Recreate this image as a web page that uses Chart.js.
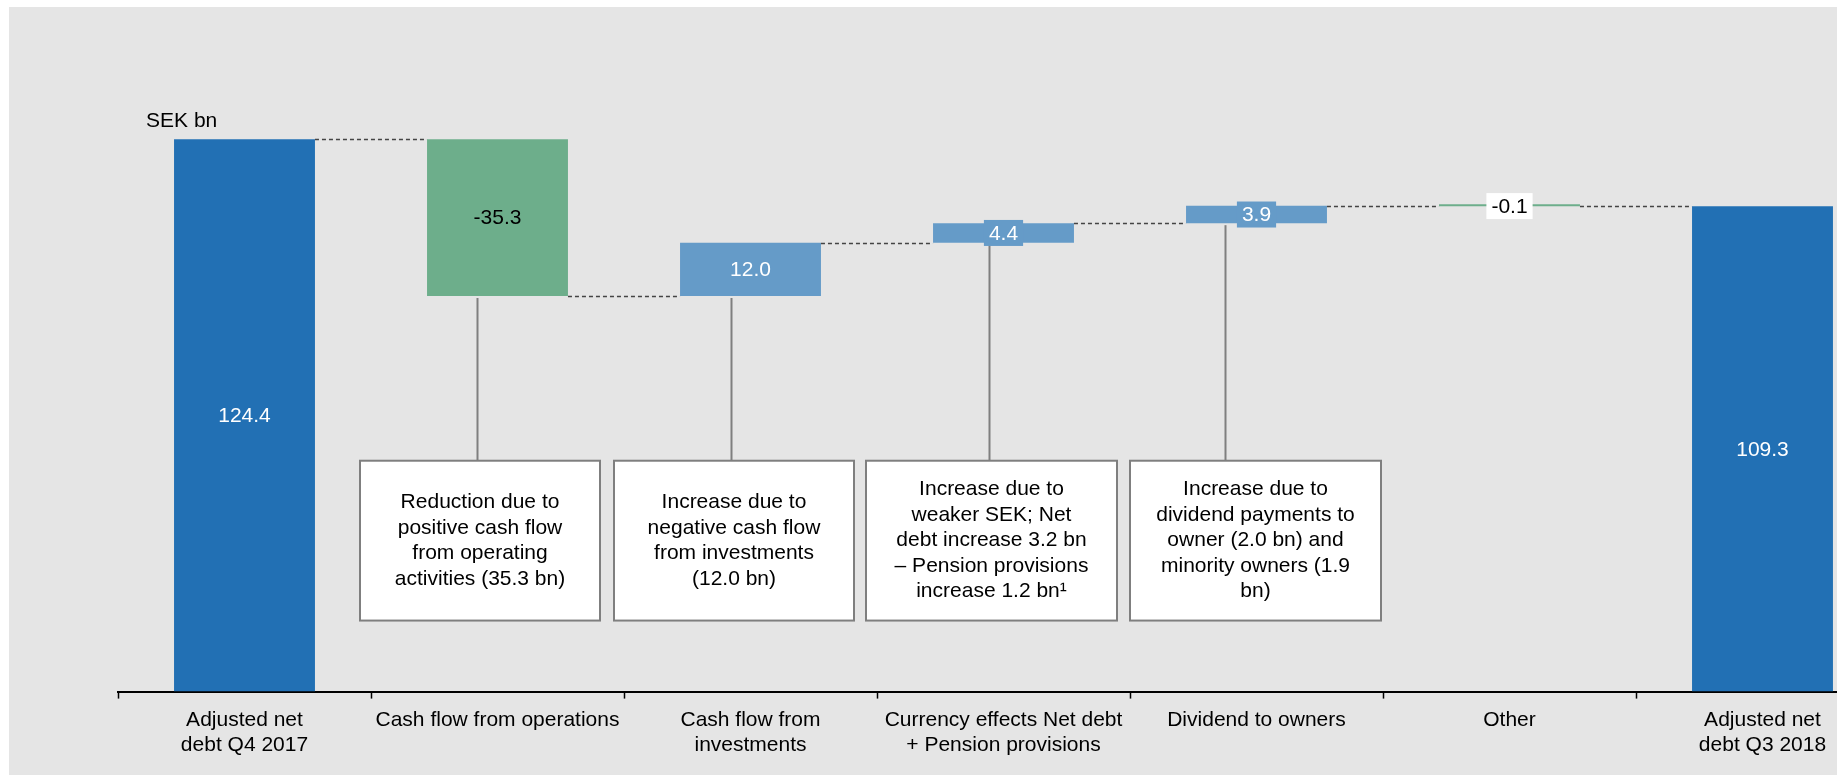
<!DOCTYPE html>
<html>
<head>
<meta charset="utf-8">
<script src="https://cdn.jsdelivr.net/npm/chart.js@4.4.0/dist/chart.umd.min.js"></script>
<style>
  html, body { margin: 0; padding: 0; background: #fff; overflow: hidden; }
  #wrap { position: absolute; left: 0; top: 0; width: 1900px; height: 775px; }
</style>
</head>
<body>
<div id="wrap"><canvas id="chart" width="1900" height="775"></canvas></div>
<script>
// categories on the x axis
const categories = [
  ['Adjusted net', 'debt Q4 2017'],
  'Cash flow from operations',
  ['Cash flow from', 'investments'],
  ['Currency effects Net debt', '+ Pension provisions'],
  'Dividend to owners',
  'Other',
  ['Adjusted net', 'debt Q3 2018'],
]
// SEK bn, totals at both ends, changes in between
const changes = [124.4, -35.3, 12.0, 4.4, 3.9, -0.1, 109.3]
const isTotal = [true, false, false, false, false, false, true]
const valueLabels = ['124.4', '-35.3', '12.0', '4.4', '3.9', '-0.1', '109.3']

const notes = [
  null,
  ['Reduction due to', 'positive cash flow', 'from operating', 'activities (35.3 bn)'],
  ['Increase due to', 'negative cash flow', 'from investments', '(12.0 bn)'],
  ['Increase due to', 'weaker SEK; Net', 'debt increase 3.2 bn', '\u2013 Pension provisions', 'increase 1.2 bn\u00b9'],
  ['Increase due to', 'dividend payments to', 'owner (2.0 bn) and', 'minority owners (1.9', 'bn)'],
  null,
  null,
]

const DARK = '#2270b4'
const GREEN = '#6dae8b'
const LIGHT = '#659bc8'
const barColors = [DARK, GREEN, LIGHT, LIGHT, LIGHT, GREEN, DARK]
const labelColors = ['#fff', '#000', '#fff', '#fff', '#fff', '#000', '#fff']
const labelBoxes = [null, null, null, LIGHT, LIGHT, '#fff', null]

// note box placement: offset from category centre, width, connector offset
const noteLayout = [
  null,
  { dx: -17.5, w: 240, line: -20.5 },
  { dx: -16.5, w: 240, line: -19.5 },
  { dx: -12, w: 251, line: -14.5 },
  { dx: -1, w: 251, line: -31.5 },
  null,
  null,
]
const noteTop = 52
const noteBottom = 16

const FONT = '"Liberation Sans", Arial, sans-serif'

// floating ranges for the waterfall
const ranges = []
let running = 0
changes.forEach((v, i) => {
  if (isTotal[i]) {
    ranges.push([0, v])
    running = v
  } else {
    ranges.push([running, running + v])
    running += v
  }
})

const waterfallExtras = {
  id: 'waterfallExtras',
  beforeDraw(chart) {
    const { ctx } = chart
    ctx.save()
    ctx.fillStyle = '#e5e5e5'
    ctx.fillRect(9, 7, chart.width, chart.height)
    ctx.restore()
  },
  afterDatasetsDraw(chart) {
    const { ctx } = chart
    const y = chart.scales.y
    const x = chart.scales.x
    const bars = chart.getDatasetMeta(0).data

    ctx.save()

    // dashed connectors between bars
    ctx.strokeStyle = '#444'
    ctx.lineWidth = 1.5
    ctx.setLineDash([4, 3])
    for (let i = 0; i < bars.length - 1; i++) {
      const level = ranges[i][1]
      const py = Math.round(y.getPixelForValue(level)) + 0.5
      ctx.beginPath()
      ctx.moveTo(bars[i].x + bars[i].width / 2, py)
      ctx.lineTo(bars[i + 1].x - bars[i + 1].width / 2, py)
      ctx.stroke()
    }
    ctx.setLineDash([])

    // note boxes with lines up to their bars
    ctx.font = '21px ' + FONT
    ctx.textAlign = 'center'
    ctx.textBaseline = 'middle'
    notes.forEach((lines, i) => {
      if (!lines) return
      const lay = noteLayout[i]
      const cx = x.getPixelForValue(i)
      const top = y.getPixelForValue(noteTop)
      const bottom = y.getPixelForValue(noteBottom)
      const barBottom = y.getPixelForValue(Math.min(...ranges[i]))
      const lx = Math.round(cx + lay.line) + 0.5

      ctx.strokeStyle = '#7f7f7f'
      ctx.lineWidth = 2
      ctx.beginPath()
      ctx.moveTo(lx, barBottom + 2)
      ctx.lineTo(lx, top)
      ctx.stroke()

      const left = cx + lay.dx - lay.w / 2
      ctx.fillStyle = '#fff'
      ctx.fillRect(left, top, lay.w, bottom - top)
      ctx.strokeRect(left, top, lay.w, bottom - top)

      const lh = 25.5
      const mid = (top + bottom) / 2
      ctx.fillStyle = '#000'
      lines.forEach((t, k) => {
        ctx.fillText(t, cx + lay.dx, mid + (k - (lines.length - 1) / 2) * lh)
      })
    })

    // value labels
    bars.forEach((bar, i) => {
      const yTop = y.getPixelForValue(Math.max(...ranges[i]))
      const yBot = y.getPixelForValue(Math.min(...ranges[i]))
      const cy = (yTop + yBot) / 2
      const text = valueLabels[i]
      if (labelBoxes[i]) {
        const tw = ctx.measureText(text).width + 10
        ctx.fillStyle = labelBoxes[i]
        ctx.fillRect(bar.x - tw / 2, cy - 13, tw, 26)
      }
      ctx.fillStyle = labelColors[i]
      ctx.fillText(text, bar.x, cy + 1)
    })

    // unit label
    ctx.fillStyle = '#000'
    ctx.textAlign = 'left'
    ctx.fillText('SEK bn', bars[0].x - bars[0].width / 2 - 28, y.getPixelForValue(ranges[0][1]) - 18)

    ctx.restore()
  },
}

new Chart(document.getElementById('chart'), {
  type: 'bar',
  data: {
    labels: categories,
    datasets: [
      {
        data: ranges,
        backgroundColor: barColors,
        borderWidth: 0,
        minBarLength: 2,
        categoryPercentage: 1,
        barPercentage: 0.557,
      },
    ],
  },
  options: {
    responsive: false,
    animation: false,
    layout: { padding: { left: 118, right: 11, top: 70, bottom: 8 } },
    plugins: {
      legend: { display: false },
      tooltip: { enabled: false },
    },
    scales: {
      y: { display: false, min: 0, max: 140 },
      x: {
        grid: {
          offset: true,
          drawOnChartArea: false,
          tickLength: 7,
          tickColor: '#000',
          tickWidth: 1.5,
        },
        border: { color: '#000', width: 2 },
        ticks: {
          color: '#000',
          font: { family: FONT, size: 21 },
          padding: 9,
          autoSkip: false,
          maxRotation: 0,
        },
      },
    },
  },
  plugins: [waterfallExtras],
})
</script>
</body>
</html>
